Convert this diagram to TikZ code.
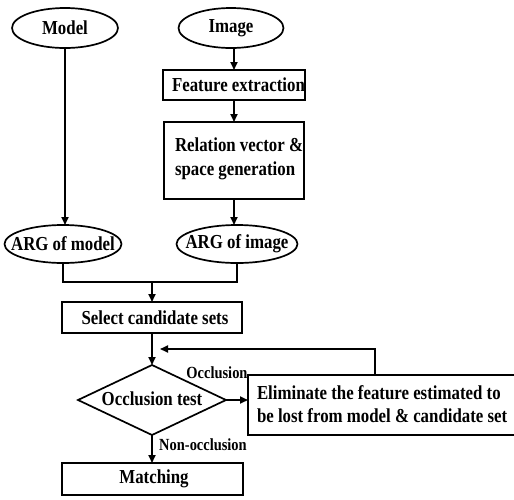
\documentclass[tikz,border=0pt]{standalone}
\usepackage{fontspec}
\setmainfont{Liberation Serif}
\newfontfamily\dfont[FakeStretch=0.85]{Liberation Serif Bold}
\usetikzlibrary{shapes.geometric,arrows.meta}
\begin{document}
\begin{tikzpicture}[x=1pt,y=-1pt,line width=1.7pt,
  every node/.style={inner sep=0pt,outer sep=0pt,font=\dfont\fontsize{19.8}{23}\selectfont},
  ell/.style={draw,ellipse},
  box/.style={draw,rectangle},
  dia/.style={draw,diamond},
  arr/.style={-{Triangle[length=8pt,width=7pt]}},
  twoline/.style={anchor=west,align=left,font=\dfont\fontsize{19.8}{23.5}\selectfont},
  lbl/.style={font=\dfont\fontsize{17}{19}\selectfont}]
\useasboundingbox (0,0) rectangle (514,499);
\clip (0,0) rectangle (514,499);
% ellipses
\node[ell,minimum width=106,minimum height=40] (model) at (65,28) {};
\node (modelt) at (model) {Model};
\node[ell,minimum width=105,minimum height=40] (img) at (231,28) {};
\node (imgt) at (img) {Image};
\node[ell,minimum width=117,minimum height=38] (argm) at (63,244) {};
\node (argmt) at (argm) {ARG of model};
\node[ell,minimum width=121,minimum height=38] (argi) at (237,244) {};
\node (argit) at (argi) {ARG of image};
% boxes
\node[box,minimum width=142,minimum height=30] (fe) at (234,85) {};
\node[anchor=west] (fet) at (172,85) {Feature extraction};
\node[box,minimum width=140,minimum height=77] (rv) at (234,160.5) {};
\node[twoline] (rvt) at (175,159) {Relation vector \&\\space generation};
\node[box,minimum width=180,minimum height=31] (sel) at (152,317.5) {};
\node (selt) at (155,318) {Select candidate sets};
\node[dia,minimum width=148,minimum height=70] (occ) at (152,400) {};
\node (occt) at (152,399) {Occlusion test};
\node[box,minimum width=272,minimum height=60] (elim) at (384,405) {};
\node[twoline] (elimt) at (257,404) {Eliminate the feature estimated to\\be lost from model \& candidate set};
\node[box,minimum width=181,minimum height=32] (match) at (152.5,479) {};
\node (matcht) at (154,479) {Matching};
% labels
\node[lbl] (loccl) at (217,373) {Occlusion};
\node[lbl] (lnon) at (203,445) {Non-occlusion};
% connectors
\draw[arr] (model.south) -- (model.south |- argm.north);
\draw[arr] (fe.north |- img.south) -- (fe.north);
\draw[arr] (fe.south) -- (rv.north);
\draw[arr] (rv.south) -- (rv.south |- argi.north);
\coordinate (j) at (152,282);
\draw (argm.south) |- (j) -| (argi.south);
\draw[arr] (j) -- (sel.north);
\draw[arr] (sel.south) -- (occ.north);
\draw[arr] (occ.east) -- (occ.east -| elim.west);
\coordinate (fbx) at (375,349);
\coordinate (fbend) at (160,349);
\draw[arr] (elim.north -| fbx) -- (fbx) -- (fbend);
\draw[arr] (occ.south) -- (occ.south |- match.north);
\end{tikzpicture}
\end{document}
